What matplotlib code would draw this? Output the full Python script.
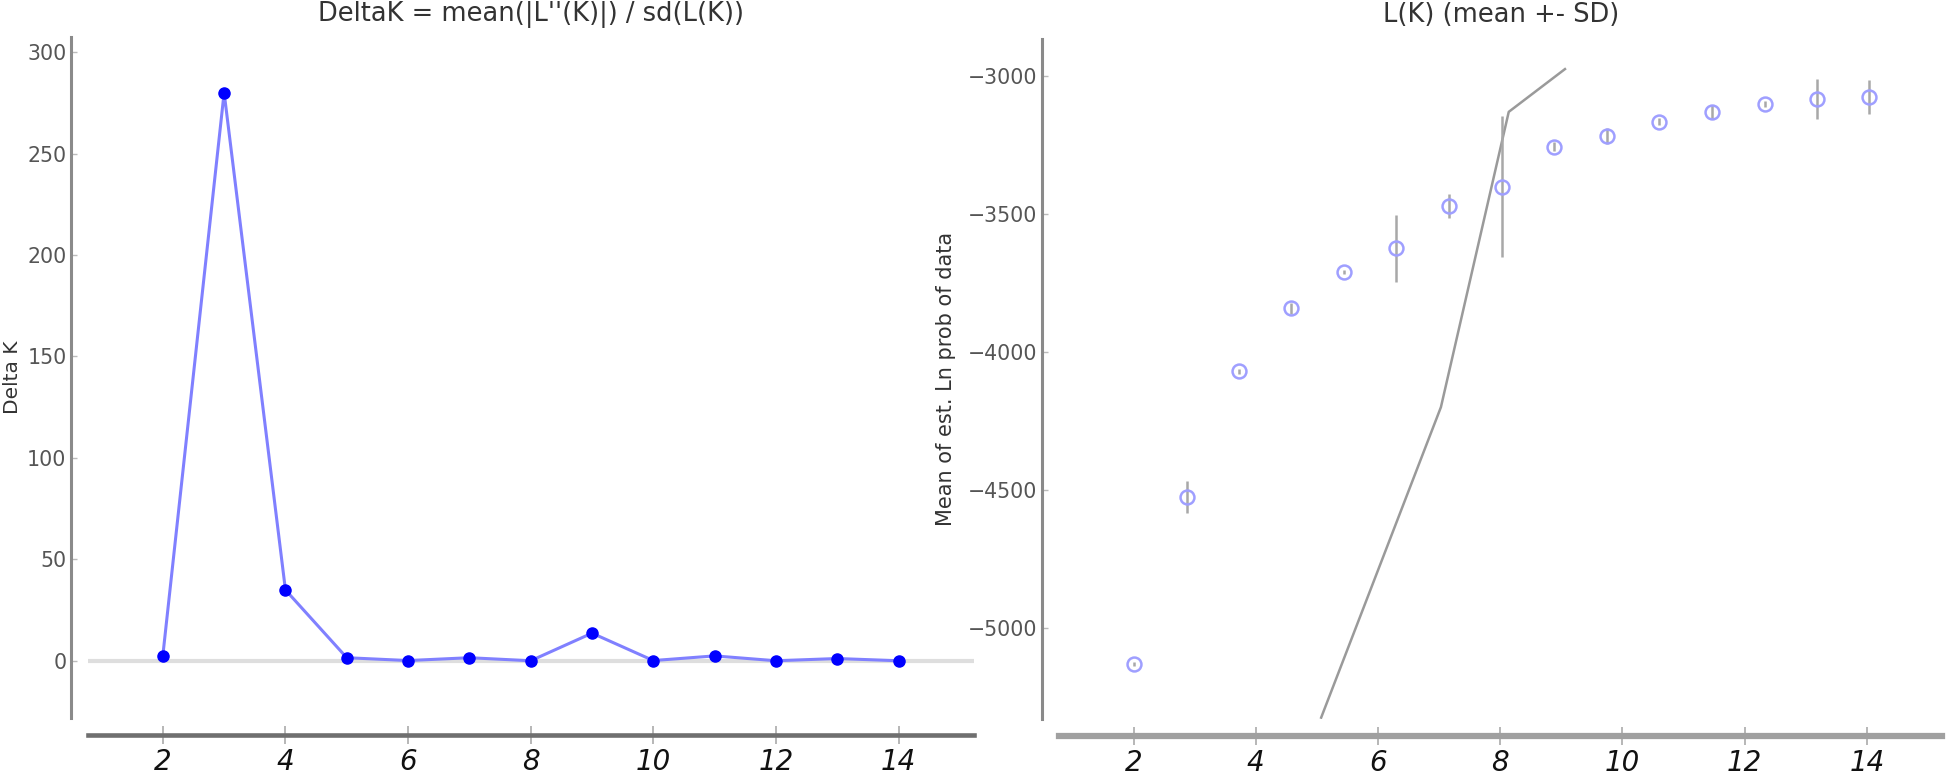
import matplotlib
matplotlib.use("Agg")
import matplotlib.pyplot as plt

# ---- data ----
k_delta = [2, 3, 4, 5, 6, 7, 8, 9, 10, 11, 12, 13, 14]
delta_k = [2.5, 280, 35, 1.6, 0.2, 1.6, 0.1, 13.7, 0.2, 2.5, 0.1, 1.2, 0.1]

lk_x = [2.0, 2.87, 3.72, 4.58, 5.45, 6.30, 7.16, 8.03, 8.88, 9.75, 10.60, 11.46, 12.33, 13.18, 14.04]
lk_mean = [-5130, -4525, -4070, -3841, -3711, -3625, -3471, -3401, -3256, -3216, -3166, -3130, -3101, -3083, -3076]
lk_sd = [8, 58, 10, 20, 8, 120, 43, 255, 15, 29, 12, 26, 12, 72, 61]

trend_x = [5.07, 7.03, 8.14, 9.06]
trend_y = [-5325, -4200, -3130, -2975]

x_ticks = [2, 4, 6, 8, 10, 12, 14]
left_yticks = [0, 50, 100, 150, 200, 250, 300]
right_yticks = [-5000, -4500, -4000, -3500, -3000]

title_left = "DeltaK = mean(|L''(K)|) / sd(L(K))"
title_right = "L(K) (mean +- SD)"
ylabel_left = "Delta K"
ylabel_right = "Mean of est. Ln prob of data"

W, H = 1946, 777
fig = plt.figure(figsize=(W / 100, H / 100), dpi=100)

def px_axes(x0, y0, x1, y1):
    return [x0 / W, 1 - y1 / H, (x1 - x0) / W, (y1 - y0) / H]

ax1 = fig.add_axes(px_axes(88, 37, 974, 718))
ax2 = fig.add_axes(px_axes(1059, 39, 1942, 719))

def style(ax, xcol):
    for s in ("top", "right"):
        ax.spines[s].set_visible(False)
    ax.spines["left"].set_position(("outward", 12.5))
    ax.spines["bottom"].set_position(("outward", 12.3))
    ax.spines["left"].set_color("#8a8a8a")
    ax.spines["left"].set_linewidth(2.2)
    ax.spines["bottom"].set_color(xcol)
    ax.spines["bottom"].set_linewidth(3.3)
    ax.tick_params(axis="y", direction="in", length=4, width=1, color="#bbbbbb",
                   labelsize=14.8, labelcolor="#555555", pad=3)
    ax.tick_params(axis="x", direction="inout", length=13, width=1.2, color="#aaaaaa",
                   labelsize=20, labelcolor="#111111", pad=3)
    ax.set_xticks(x_ticks)
    for lab in ax.get_xticklabels():
        lab.set_fontstyle("italic")
        lab.set_fontfamily(["Liberation Sans Narrow", "DejaVu Sans"])
    ax.set_xlim(0.78, 15.23)

# left chart
ax1.axhline(0, color="#dedede", lw=3, zorder=0)
ax1.plot(k_delta, delta_k, color=(0.5, 0.5, 1.0), lw=2.2, marker="o",
         markersize=8, markerfacecolor="#0000ff", markeredgecolor="#0000ff", zorder=3)
style(ax1, "#6f6f6f")
ax1.set_ylim(-28.1, 307.4)
ax1.set_yticks(left_yticks)

# right chart
ax2.plot(trend_x, trend_y, color="#9a9a9a", lw=1.8, zorder=2)
ax2.errorbar(lk_x, lk_mean, yerr=lk_sd, fmt="none", ecolor="#a8a8a8", elinewidth=1.8, zorder=3)
ax2.plot(lk_x, lk_mean, linestyle="none", marker="o", markersize=10,
         markerfacecolor="none", markeredgecolor="#9f9fff", markeredgewidth=1.8, zorder=4)
style(ax2, "#a0a0a0")
ax2.spines["bottom"].set_linewidth(4.5)
ax2.set_ylim(-5330, -2866)
ax2.set_yticks(right_yticks)

# titles and labels
fig.text(531 / W, 1 - 15 / H, title_left, ha="center", va="center", fontsize=18.5, color="#333333")
fig.text(1501 / W, 1 - 15 / H, title_right, ha="center", va="center", fontsize=18.5, color="#333333")
fig.text(13 / W, 1 - 377 / H, ylabel_left, ha="center", va="center", rotation=90, fontsize=14.5, color="#333333")
fig.text(946 / W, 1 - 379 / H, ylabel_right, ha="center", va="center", rotation=90, fontsize=15, color="#333333")

fig.savefig("out.png", dpi=100)
